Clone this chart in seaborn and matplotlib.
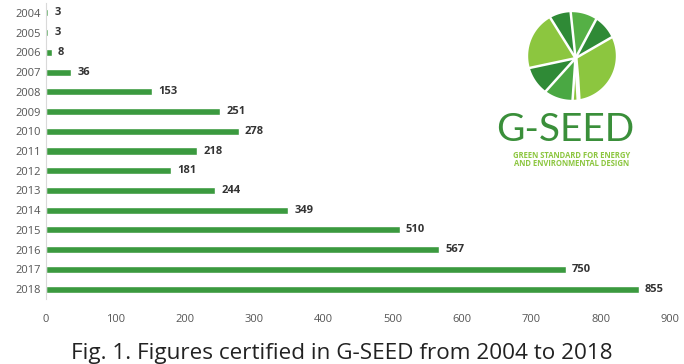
import matplotlib
matplotlib.use('Agg')
import matplotlib.pyplot as plt
import seaborn as sns
import pandas as pd
import numpy as np
from matplotlib.patches import Polygon

years = ['2004', '2005', '2006', '2007', '2008', '2009', '2010', '2011',
         '2012', '2013', '2014', '2015', '2016', '2017', '2018']
counts = [3, 3, 8, 36, 153, 251, 278, 218, 181, 244, 349, 510, 567, 750, 855]
xticks = [0, 100, 200, 300, 400, 500, 600, 700, 800, 900]
caption = 'Fig. 1. Figures certified in G-SEED from 2004 to 2018'

sns.set_style('white')
plt.rcParams['font.family'] = ['Open Sans', 'DejaVu Sans']

df = pd.DataFrame({'year': years, 'count': counts})

fig = plt.figure(figsize=(6.84, 3.64), dpi=100)
ax = fig.add_axes([46 / 684, 65 / 364, 624 / 684, 296 / 364])

sns.barplot(data=df, x='count', y='year', orient='h', color='#3b9a3f',
            saturation=1, width=0.36, ax=ax)

for i, v in enumerate(counts):
    ax.text(v + 9, i, str(v), va='center', ha='left', fontsize=8,
            fontweight='bold', color='#333333')

ax.set_xlim(0, 900)
ax.set_xticks(xticks)
ax.set_xlabel('')
ax.set_ylabel('')
ax.tick_params(axis='both', length=0, labelsize=8, colors='#555555')
ax.tick_params(axis='x', pad=11)
ax.tick_params(axis='y', pad=4)
for s in ['top', 'right', 'bottom']:
    ax.spines[s].set_visible(False)
ax.spines['left'].set_color('#d9d9d9')
ax.spines['left'].set_linewidth(0.8)

# G-SEED logo: circle split into leaf pieces around an off-centre point
lax = fig.add_axes([(572 - 46) / 684, (364 - 102) / 364, 92 / 684, 92 / 364])
lax.set_xlim(-1.05, 1.05)
lax.set_ylim(-1.05, 1.05)
lax.set_aspect('equal')
lax.axis('off')
cx, cy = 0.08, -0.05


def ray_hit(deg):
    dx, dy = np.cos(np.radians(deg)), np.sin(np.radians(deg))
    b = cx * dx + cy * dy
    t = -b + np.sqrt(b * b - (cx * cx + cy * cy - 1))
    return cx + t * dx, cy + t * dy


pieces = [(30, 62, '#2f8a36'), (62, 96, '#55b045'), (96, 122, '#2f8a36'),
          (122, 192, '#8cc63f'), (192, 228, '#2f8a36'), (228, 266, '#4aa843'),
          (266, 390, '#8cc63f')]
for a1, a2, col in pieces:
    pts = [(cx, cy)] + [ray_hit(a) for a in np.linspace(a1, a2, 60)]
    lax.add_patch(Polygon(pts, closed=True, facecolor=col, edgecolor='none'))
for a1, _, _ in pieces:
    hx, hy = ray_hit(a1)
    lax.plot([cx, hx], [cy, hy], color='white', lw=1.8)
lax.plot([0.15, 0.12, cx], [-1.0, -0.5, cy], color='white', lw=3,
         solid_capstyle='round')

fig.text(565 / 684, (364 - 130) / 364, 'G-SEED', ha='center', va='center',
         fontsize=28, color='#3a8f3a', family=['Lato', 'DejaVu Sans'])
fig.text(572 / 684, (364 - 155) / 364, 'GREEN STANDARD FOR ENERGY',
         ha='center', va='center', fontsize=5.5, fontweight='bold', color='#8cc63f')
fig.text(572 / 684, (364 - 163) / 364, 'AND ENVIRONMENTAL DESIGN',
         ha='center', va='center', fontsize=5.5, fontweight='bold', color='#8cc63f')

fig.text(342 / 684, (364 - 343) / 364, caption, ha='center', va='top',
         fontsize=16.2, color='#222222')

fig.savefig('out.png', dpi=100)
